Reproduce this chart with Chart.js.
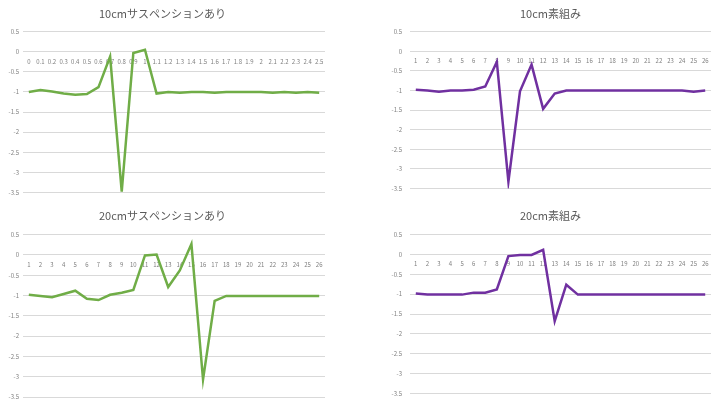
<!DOCTYPE html>
<html>
<head>
<meta charset="utf-8">
<script src="https://cdn.jsdelivr.net/npm/chart.js@4/dist/chart.umd.min.js"></script>
<style>
  html, body { margin: 0; padding: 0; background: #ffffff; }
  body { width: 720px; height: 405px; position: relative; overflow: hidden; }
  .box { position: absolute; }
</style>
</head>
<body>
<div class="box" style="left:0px; top:0px; width:340px; height:200px;"><canvas id="chart1"></canvas></div>
<div class="box" style="left:390px; top:0px; width:330px; height:200px;"><canvas id="chart2"></canvas></div>
<div class="box" style="left:0px; top:203px; width:340px; height:202px;"><canvas id="chart3"></canvas></div>
<div class="box" style="left:390px; top:203px; width:330px; height:202px;"><canvas id="chart4"></canvas></div>
<script>
// tick labels
var timeLabels = ["0","0.1","0.2","0.3","0.4","0.5","0.6","0.7","0.8","0.9","1","1.1","1.2",
                  "1.3","1.4","1.5","1.6","1.7","1.8","1.9","2","2.1","2.2","2.3","2.4","2.5"];
var countLabels = ["1","2","3","4","5","6","7","8","9","10","11","12","13",
                   "14","15","16","17","18","19","20","21","22","23","24","25","26"];

// series values
var susp10 = [-1.00,-0.95,-0.99,-1.04,-1.07,-1.05,-0.88,-0.12,-3.48,-0.03,0.05,-1.04,-1.00,
              -1.02,-1.00,-1.00,-1.02,-1.00,-1.00,-1.00,-1.00,-1.02,-1.00,-1.02,-1.00,-1.02];
var bare10 = [-0.98,-1.00,-1.03,-1.00,-1.00,-0.98,-0.90,-0.27,-3.33,-1.02,-0.34,-1.47,-1.08,
              -1.00,-1.00,-1.00,-1.00,-1.00,-1.00,-1.00,-1.00,-1.00,-1.00,-1.00,-1.03,-1.00];
var susp20 = [-0.98,-1.01,-1.04,-0.96,-0.88,-1.08,-1.11,-0.98,-0.93,-0.86,-0.01,0.01,-0.79,
              -0.38,0.27,-3.07,-1.13,-1.01,-1.01,-1.01,-1.01,-1.01,-1.01,-1.01,-1.01,-1.01];
var bare20 = [-0.98,-1.01,-1.01,-1.01,-1.01,-0.96,-0.96,-0.88,-0.04,-0.01,-0.01,0.12,-1.68,
              -0.76,-1.01,-1.01,-1.01,-1.01,-1.01,-1.01,-1.01,-1.01,-1.01,-1.01,-1.01,-1.01];

var green = "#70AD47";
var purple = "#7030A0";
var fontFam = "'Noto Sans CJK JP', 'Noto Sans', sans-serif";

function makeChart(id, title, labels, values, color, axisWidth, tickPad, padRight, titlePad) {
    return new Chart(document.getElementById(id), {
        type: 'line',
        data: {
            labels: labels,
            datasets: [{
                data: values,
                borderColor: color,
                borderWidth: 2.5,
                pointRadius: 0,
                tension: 0,
                fill: false
            }]
        },
        options: {
            responsive: true,
            maintainAspectRatio: false,
            animation: false,
            layout: { padding: { top: 0, left: 0, right: padRight, bottom: titlePad.bottomPad } },
            plugins: {
                legend: { display: false },
                tooltip: { enabled: false },
                title: {
                    display: true,
                    text: title,
                    color: '#595959',
                    font: { family: fontFam, size: 11, weight: 'normal' },
                    padding: { top: titlePad.top, bottom: titlePad.bottom }
                }
            },
            scales: {
                x: {
                    position: { y: 0 },
                    offset: true,
                    grid: { display: false },
                    border: { display: false },
                    ticks: {
                        autoSkip: false,
                        maxRotation: 0,
                        padding: -2,
                        color: '#7f7f7f',
                        font: { family: fontFam, size: 6 }
                    }
                },
                y: {
                    min: -3.5,
                    max: 0.5,
                    grid: { color: '#d9d9d9', lineWidth: 1, drawTicks: false },
                    border: { display: false },
                    ticks: {
                        stepSize: 0.5,
                        padding: tickPad,
                        color: '#7f7f7f',
                        font: { family: fontFam, size: 6 },
                        callback: function (value) { return String(Math.round(value * 10) / 10); }
                    },
                    afterFit: function (scale) { scale.width = axisWidth; }
                }
            }
        }
    });
}

makeChart("chart1", "10cmサスペンションあり", timeLabels, susp10, green, 23, 4, 15, { top: 7, bottom: 11.5, bottomPad: 6 });
makeChart("chart2", "10cm素組み", countLabels, bare10, purple, 20, 8, 9, { top: 7, bottom: 11.5, bottomPad: 6 });
makeChart("chart3", "20cmサスペンションあり", countLabels, susp20, green, 23, 4, 15, { top: 6, bottom: 12.5, bottomPad: 8 });
makeChart("chart4", "20cm素組み", countLabels, bare20, purple, 20, 8, 9, { top: 6, bottom: 12.5, bottomPad: 8 });
</script>
</body>
</html>
